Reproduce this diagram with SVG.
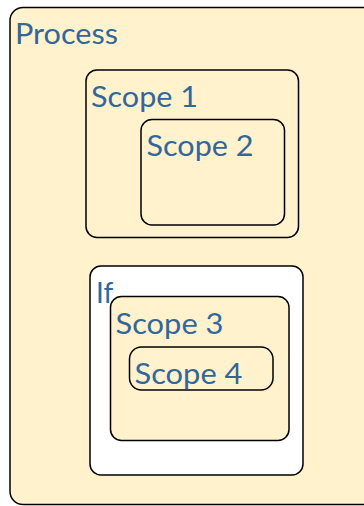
<svg xmlns="http://www.w3.org/2000/svg" width="364" height="506" viewBox="0 0 364 506">
<style>
.box{fill:#FFF2CC;stroke:#000;stroke-width:1.5}
.white{fill:#FFFFFF;stroke:#000;stroke-width:1.5}
.lbl{font-family:Lato,"Liberation Sans",sans-serif;font-size:28px;fill:#336699}
</style>
<rect width="364" height="506" fill="#FFFFFF"/>
<g id="process">
<rect class="box" x="10" y="7.5" width="366" height="497" rx="13"/>
<text class="lbl" x="15" y="43.5" textLength="103" lengthAdjust="spacingAndGlyphs">Process</text>
</g>
<g id="scope1">
<rect class="box" x="86" y="70" width="212.5" height="167.5" rx="11"/>
<text class="lbl" x="91" y="107" textLength="107" lengthAdjust="spacingAndGlyphs">Scope 1</text>
</g>
<g id="scope2">
<rect class="box" x="141" y="119.5" width="143.5" height="105.5" rx="11"/>
<text class="lbl" x="146.5" y="156" textLength="107" lengthAdjust="spacingAndGlyphs">Scope 2</text>
</g>
<g id="if">
<rect class="white" x="90" y="266" width="213" height="209" rx="11"/>
<text class="lbl" x="96" y="303">If</text>
</g>
<g id="scope3">
<rect class="box" x="110.5" y="296.5" width="178.5" height="144" rx="11"/>
<text class="lbl" x="115.5" y="334" textLength="108" lengthAdjust="spacingAndGlyphs">Scope 3</text>
</g>
<g id="scope4">
<rect class="box" x="129.5" y="347" width="143.5" height="43" rx="12"/>
<text class="lbl" x="134.5" y="384" textLength="108" lengthAdjust="spacingAndGlyphs">Scope 4</text>
</g>
<g id="connectors"/>
</svg>
